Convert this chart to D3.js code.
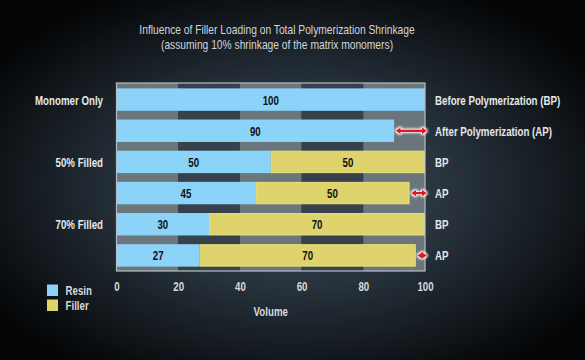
<!DOCTYPE html>
<html>
<head>
<meta charset="utf-8">
<script src="https://cdn.jsdelivr.net/npm/d3@7"></script>
<style>
  html, body { margin: 0; padding: 0; background: #000; }
  svg text { font-family: "Liberation Sans", Arial, sans-serif; }
</style>
</head>
<body>
<div id="chart"></div>
<script>
// rows, top to bottom
const rowIds = ['mono_bp', 'mono_ap', 'f50_bp', 'f50_ap', 'f70_bp', 'f70_ap'];
const resin = [100, 90, 50, 45, 30, 27];
const filler = [0, 0, 50, 50, 70, 70];
const rightLabels = ['Before Polymerization (BP)', 'After Polymerization (AP)', 'BP', 'AP', 'BP', 'AP'];
const groupLabels = ['Monomer Only', '', '50% Filled', '', '70% Filled', ''];
const xTicks = [0, 20, 40, 60, 80, 100];

const W = 585, H = 360;
const resinColor = '#8bd3f8';
const fillerColor = '#ded36d';
const SX = 0.72; // squeeze to mimic the condensed face

const svg = d3.select('#chart').append('svg')
  .attr('width', W).attr('height', H);

const defs = svg.append('defs');
const bg = defs.append('radialGradient').attr('id', 'bg')
  .attr('cx', '0.5').attr('cy', '0.52').attr('r', '0.62');
bg.append('stop').attr('offset', '0%').attr('stop-color', '#3c4a58');
bg.append('stop').attr('offset', '45%').attr('stop-color', '#27323c');
bg.append('stop').attr('offset', '100%').attr('stop-color', '#030405');

// white glow behind the red arrows
const glow = defs.append('filter').attr('id', 'glow')
  .attr('x', '-30%').attr('y', '-100%').attr('width', '160%').attr('height', '300%');
glow.append('feMorphology').attr('in', 'SourceAlpha').attr('operator', 'dilate').attr('radius', 1.3).attr('result', 'd');
glow.append('feGaussianBlur').attr('in', 'd').attr('stdDeviation', 1.3).attr('result', 'b');
glow.append('feFlood').attr('flood-color', '#ffffff').attr('flood-opacity', 1);
glow.append('feComposite').attr('in2', 'b').attr('operator', 'in').attr('result', 'w');
const mrg = glow.append('feMerge');
mrg.append('feMergeNode').attr('in', 'w');
mrg.append('feMergeNode').attr('in', 'SourceGraphic');

svg.append('rect').attr('width', W).attr('height', H).attr('fill', 'url(#bg)');

const x = d3.scaleLinear().domain([0, 100]).range([116.5, 425]);
const y = d3.scaleBand().domain(rowIds).range([84, 271]).paddingInner(0.28).paddingOuter(0.14);

// place a text at (px, py) and squeeze it horizontally
function place(sel, px, py, sx = SX) {
  return sel.attr('transform', (d, i) => {
    const a = typeof px === 'function' ? px(d, i) : px;
    const b = typeof py === 'function' ? py(d, i) : py;
    return `translate(${a},${b}) scale(${sx},1)`;
  });
}

// title
const title = svg.append('g').attr('fill', '#d2d6da').attr('text-anchor', 'middle').attr('font-size', 13);
place(title.append('text').text('Influence of Filler Loading on Total Polymerization Shrinkage'), 277, 33.5, 0.79);
place(title.append('text').text('(assuming 10% shrinkage of the matrix monomers)'), 277, 48.5, 0.79);

// panel with alternating columns
const panel = svg.append('g');
panel.selectAll('rect.col')
  .data(xTicks.slice(0, -1))
  .enter().append('rect')
  .attr('class', 'col')
  .attr('x', d => x(d))
  .attr('y', 83)
  .attr('width', d => x(d + 20) - x(d))
  .attr('height', 271 - 83)
  .attr('fill', (d, i) => i % 2 === 0 ? '#6b767c' : '#36414b');

// bars
const rows = svg.append('g').selectAll('g')
  .data(rowIds)
  .enter().append('g')
  .attr('transform', d => `translate(0,${y(d)})`);

rows.append('rect')
  .attr('x', x(0))
  .attr('width', (d, i) => x(resin[i]) - x(0))
  .attr('height', y.bandwidth())
  .attr('fill', resinColor);

rows.filter((d, i) => filler[i] > 0).append('rect')
  .attr('x', d => x(resin[rowIds.indexOf(d)]) + 0.5)
  .attr('y', 0.5)
  .attr('width', d => { const i = rowIds.indexOf(d); return x(resin[i] + filler[i]) - x(resin[i]) - 1; })
  .attr('height', y.bandwidth() - 1)
  .attr('fill', fillerColor)
  .attr('stroke', '#ece07c')
  .attr('stroke-width', 1);

// value labels
place(rows.append('text')
  .attr('text-anchor', 'middle')
  .attr('font-size', 13.5).attr('font-weight', 'bold').attr('fill', '#111')
  .text((d, i) => resin[i]),
  (d, i) => x(resin[i] / 2), y.bandwidth() / 2 + 5);

place(rows.filter((d, i) => filler[i] > 0).append('text')
  .attr('text-anchor', 'middle')
  .attr('font-size', 13.5).attr('font-weight', 'bold').attr('fill', '#111')
  .text(d => filler[rowIds.indexOf(d)]),
  d => { const i = rowIds.indexOf(d); return x(resin[i] + filler[i] / 2); }, y.bandwidth() / 2 + 5);

// panel frame
svg.append('rect')
  .attr('x', x(0)).attr('y', 83)
  .attr('width', x(100) - x(0)).attr('height', 271 - 83)
  .attr('fill', 'none').attr('stroke', '#b4bec4').attr('stroke-width', 1.2);

// shrinkage arrows
function arrow(g, x0, x1, cy) {
  const h = 3.4, aw = 5, t = 1.2;
  const p = [
    [x0, cy], [x0 + aw, cy - h], [x0 + aw, cy - t], [x1 - aw, cy - t], [x1 - aw, cy - h],
    [x1, cy], [x1 - aw, cy + h], [x1 - aw, cy + t], [x0 + aw, cy + t], [x0 + aw, cy + h]
  ];
  g.append('path').attr('d', 'M' + p.join('L') + 'Z').attr('fill', '#e8141b');
}
const arrows = svg.append('g').attr('filter', 'url(#glow)');
rowIds.forEach((d, i) => {
  const tot = resin[i] + filler[i];
  if (tot < 100) arrow(arrows, x(tot) + 1.5, x(100) + 2, y(d) + y.bandwidth() / 2);
});

// group labels (left) and state labels (right)
place(svg.append('g').selectAll('text')
  .data(rowIds)
  .enter().append('text')
  .attr('text-anchor', 'end')
  .attr('font-size', 13.5).attr('font-weight', 'bold').attr('fill', '#e4e8ea')
  .text((d, i) => groupLabels[i]),
  103, d => y(d) + y.bandwidth() / 2 + 5);

place(svg.append('g').selectAll('text')
  .data(rowIds)
  .enter().append('text')
  .attr('font-size', 13.5).attr('font-weight', 'bold').attr('fill', '#e4e8ea')
  .text((d, i) => rightLabels[i]),
  435, d => y(d) + y.bandwidth() / 2 + 5);

// x axis
const axis = svg.append('g').attr('transform', 'translate(0,291)')
  .call(d3.axisBottom(x).tickValues(xTicks).tickSize(0).tickPadding(0));
axis.select('.domain').remove();
axis.attr('font-family', null).attr('font-size', null);
axis.selectAll('text')
  .attr('dy', 0).attr('y', 0)
  .attr('transform', `scale(${SX},1)`)
  .attr('font-size', 13.5).attr('font-weight', 'bold').attr('fill', '#d6dadd');

place(svg.append('text')
  .attr('text-anchor', 'middle')
  .attr('font-size', 13.5).attr('font-weight', 'bold').attr('fill', '#d6dadd')
  .text('Volume'),
  (x(0) + x(100)) / 2, 316);

// legend
const legendItems = [['Resin', resinColor], ['Filler', fillerColor]];
const leg = svg.append('g').selectAll('g')
  .data(legendItems)
  .enter().append('g')
  .attr('transform', (d, i) => `translate(47,${284.5 + 15 * i})`);
leg.append('rect').attr('width', 11).attr('height', 11.5).attr('fill', d => d[1]);
place(leg.append('text')
  .attr('font-size', 13.5).attr('font-weight', 'bold').attr('fill', '#d6dadd')
  .text(d => d[0]),
  18.5, 10.5);
</script>
</body>
</html>
